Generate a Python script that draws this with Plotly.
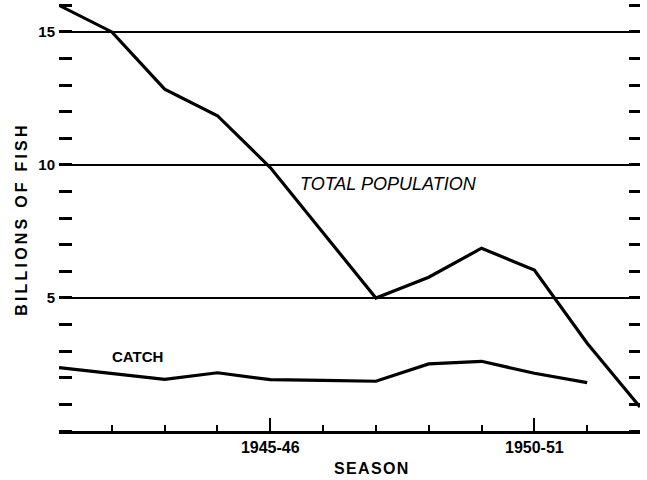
import plotly.graph_objects as go

# Seasons 1941-42 ... 1952-53 (index positions along the axis)
season_index = list(range(12))
tick_positions = [4, 9]
tick_labels = ["1945-46", "1950-51"]

total_population = [16.0, 15.0, 12.85, 11.85, 9.9, 7.45, 5.0, 5.78, 6.87, 6.05, 3.3, 0.9]
catch = [2.38, 2.16, 1.94, 2.19, 1.93, 1.9, 1.87, 2.52, 2.62, 2.17, 1.82]

y_major = [5, 10, 15]
y_major_labels = ["5", "10", "15"]

FONT = "Liberation Sans"
HS = "\u200a"
TS = "\u2009"

fig = go.Figure()
fig.add_trace(go.Scatter(x=season_index, y=total_population, mode="lines",
                         line=dict(color="black", width=3.2), cliponaxis=False,
                         showlegend=False, hoverinfo="skip"))
fig.add_trace(go.Scatter(x=season_index[:len(catch)], y=catch, mode="lines",
                         line=dict(color="black", width=3.2), cliponaxis=False,
                         showlegend=False, hoverinfo="skip"))
fig.add_trace(go.Scatter(x=[], y=[], yaxis="y2", showlegend=False))

yr = [0, 16.2]
fig.update_layout(
    width=647, height=480,
    margin=dict(l=59, r=7, t=0, b=49),
    paper_bgcolor="white", plot_bgcolor="white",
    font=dict(family=FONT, color="black"),
    xaxis=dict(range=[0, 11], showgrid=False, zeroline=False,
               showline=True, linecolor="black", linewidth=2.5,
               tickmode="array", tickvals=tick_positions, ticktext=tick_labels,
               ticks="inside", ticklen=13, tickwidth=2, tickcolor="black",
               tickfont=dict(size=16, family=FONT, weight="bold"),
               minor=dict(tickmode="linear", tick0=0, dtick=1, ticks="inside",
                          ticklen=6, tickwidth=2, tickcolor="black")),
    yaxis=dict(range=yr, showgrid=True, gridcolor="black", gridwidth=1.6,
               zeroline=False, showline=False,
               tickmode="array", tickvals=y_major, ticktext=y_major_labels,
               ticks="", ticklabelstandoff=3,
               tickfont=dict(size=15, family=FONT, weight="bold"),
               minor=dict(tickmode="linear", tick0=0, dtick=1, ticks="inside",
                          ticklen=13, tickwidth=2.5, tickcolor="black", showgrid=False)),
    yaxis2=dict(range=yr, overlaying="y", side="right", showgrid=False,
                zeroline=False, showline=False, showticklabels=False,
                tickmode="array", tickvals=y_major, ticks="",
                minor=dict(tickmode="linear", tick0=0, dtick=1, ticks="inside",
                           ticklen=11, tickwidth=2.5, tickcolor="black", showgrid=False)),
    annotations=[
        dict(x=6.23, y=9.29, xref="x", yref="y", text="TOTAL POPULATION",
             showarrow=False, font=dict(size=18, family=FONT, style="italic")),
        dict(x=1.49, y=2.8, xref="x", yref="y", text="CATCH",
             showarrow=False, font=dict(size=15, family=FONT, weight="bold")),
        dict(x=5.91, y=-0.086, xref="x", yref="paper", text=HS.join("SEASON"),
             showarrow=False, yanchor="middle",
             font=dict(size=16, family=FONT, weight="bold")),
        dict(x=-0.0637, y=7.9, xref="paper", yref="y", text=TS.join("BILLIONS OF FISH"),
             showarrow=False, textangle=-90, xanchor="center", yanchor="middle",
             font=dict(size=16, family=FONT, weight="bold")),
    ],
)

fig.write_html("out.html", config={"displayModeBar": False},
               post_script="document.body.style.margin='0';")
